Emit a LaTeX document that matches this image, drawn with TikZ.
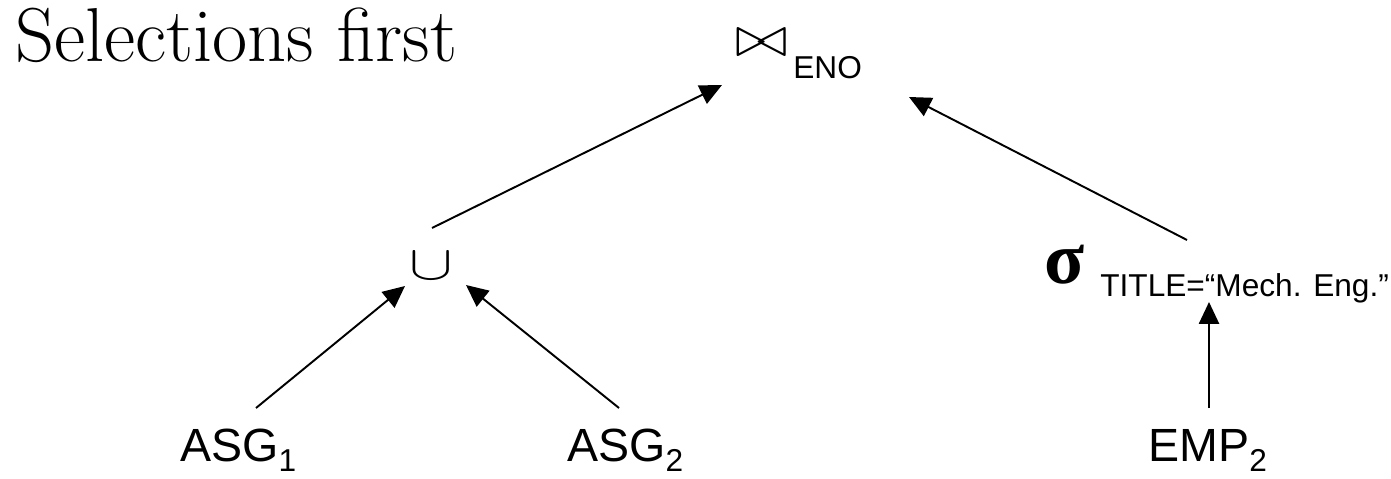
\documentclass[tikz,border=0pt]{standalone}
\usepackage{graphicx}
\usepackage{fontspec}
\setsansfont{Liberation Sans}
\newfontfamily\greekfont{Liberation Serif}
\usetikzlibrary{arrows.meta}

\newcommand{\lowsub}[2][6pt]{\raisebox{-#1}{\fontsize{18}{20}\selectfont #2}}
\newcommand{\joinsym}{\resizebox{1.04cm}{0.54cm}{$\bowtie$}}
\newcommand{\unionsym}{\resizebox{0.87cm}{0.54cm}{$\cup$}}

\begin{document}
\begin{tikzpicture}[x=0.02cm,y=-0.02cm,
	lbl/.style={anchor=base west,inner sep=0pt,font=\sffamily\fontsize{26.5}{30}\selectfont},
	arr/.style={-{Triangle[length=12.5pt,width=11.5pt]},line width=1.1pt}]
		\useasboundingbox (0,0) rectangle (1391,479);
		\node[anchor=base west,inner sep=0pt,font=\fontsize{43.5}{48}\selectfont] (title) at (15,62) {Selections first};
		% operators
		\node[lbl] (join) at (735,57) {\joinsym\hspace{3.4pt}\lowsub[12.5pt]{ENO}};
		\node[lbl,anchor=base] (union) at (431,279) {\unionsym};
		\node[lbl] (sel) at (1044,283) {{\greekfont\bfseries\fontsize{42}{44}\selectfont σ}\hspace{9pt}\lowsub[7.4pt]{TITLE=“Mech. Eng.”}};
		% relations
		\node[lbl] (asg1) at (180,461) {ASG\lowsub{1}};
		\node[lbl] (asg2) at (567,461) {ASG\lowsub{2}};
		\node[lbl] (emp2) at (1148,461) {EMP\lowsub{2}};
		% edges
		\draw[arr] ([shift={(76,-53)}]asg1.base west) -- ([shift={(-26,7)}]union.base);
		\draw[arr] ([shift={(52,-53)}]asg2.base west) -- ([shift={(35,6)}]union.base);
		\draw[arr] ([shift={(61,-53)}]emp2.base west) -- ([shift={(165,19)}]sel.base west);
		\draw[arr] ([shift={(1,-51)}]union.base) -- ([shift={(-13,28)}]join.base west);
		\draw[arr] ([shift={(143,-43)}]sel.base west) -- ([shift={(174,40)}]join.base west);
\end{tikzpicture}
\end{document}
